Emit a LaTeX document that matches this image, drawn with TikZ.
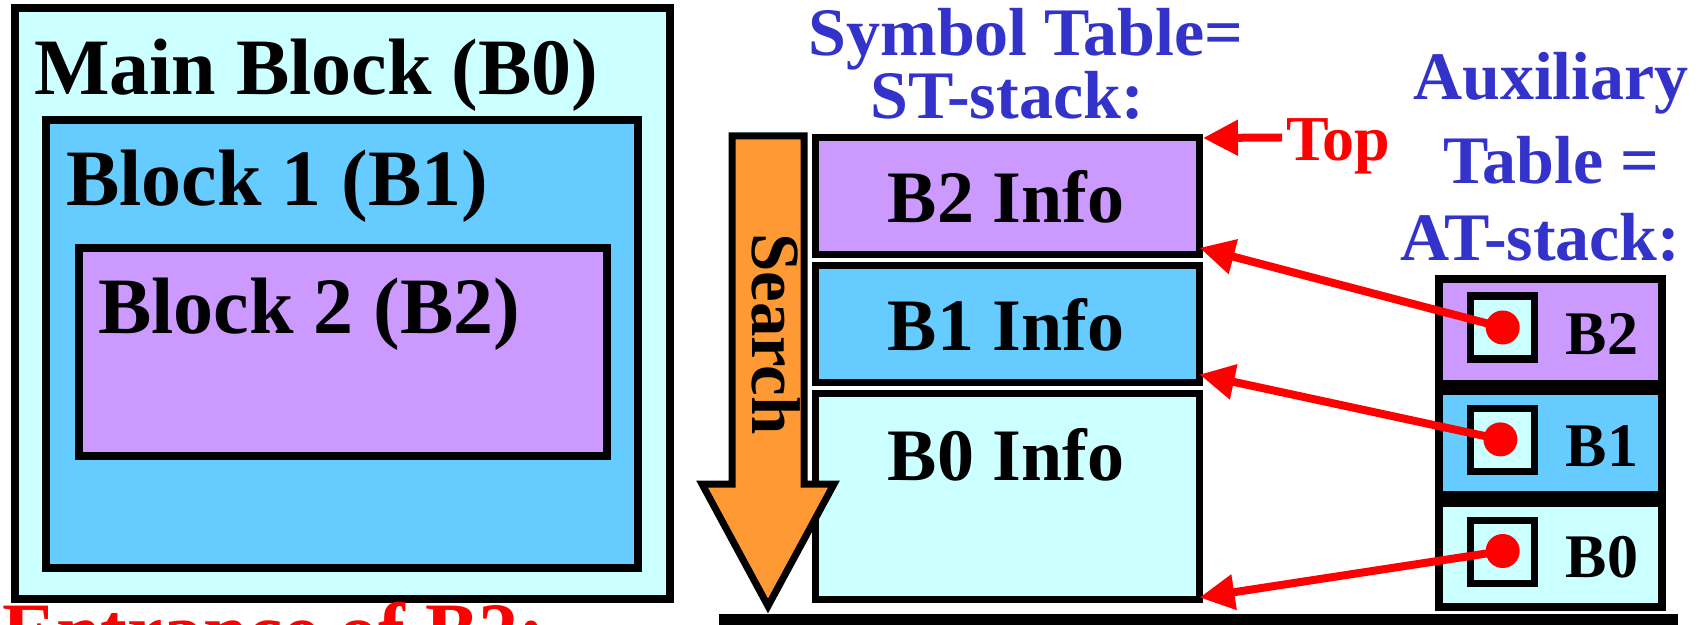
\documentclass[tikz,border=0pt]{standalone}
\usepackage{fontspec}
\setmainfont{Liberation Serif}
\usetikzlibrary{arrows.meta,calc}
\definecolor{paleCyan}{HTML}{CCFFFF}
\definecolor{skyBlue}{HTML}{66CCFF}
\definecolor{lilac}{HTML}{CC99FF}
\definecolor{searchOrange}{HTML}{FF9933}
\definecolor{titleBlue}{HTML}{3333CC}
\definecolor{pureRed}{HTML}{FF0000}

\tikzset{
  blockbox/.style={draw=black, line width=4pt, line join=miter},
  txt/.style={inner sep=0pt, outer sep=0pt, font=\bfseries\fontsize{#1}{#1}\selectfont},
  title/.style={txt=34, text=titleBlue, anchor=base},
  stbox/.style={draw=black, line width=3.5pt, inner sep=0pt, outer sep=0pt,
    minimum width=192pt},
  atcell/.style={draw=black, line width=4pt, inner sep=0pt, outer sep=0pt,
    minimum width=111.5pt, minimum height=52pt},
  slot/.style={draw=black, fill=paleCyan, line width=3.7pt, inner sep=0pt,
    outer sep=0pt, minimum width=32pt, minimum height=31.5pt},
  dot/.style={circle, fill=pureRed, inner sep=0pt, minimum size=17pt},
  ptr/.style={draw=pureRed, line width=4pt,
    -{Triangle[length=17.5pt,width=17pt]}},
}

\begin{document}
\begin{tikzpicture}[x=0.5pt,y=-0.5pt]
\useasboundingbox (0,0) rectangle (1706,625);

% nested program blocks
\draw[blockbox, fill=paleCyan] (14.7,8) rectangle (670,599);
\draw[blockbox, fill=skyBlue] (46.4,120) rectangle (638,567.5);
\draw[blockbox, fill=lilac] (78.5,248) rectangle (606.5,455.5);
\node[txt=40, anchor=base west] (mainlbl) at (34,95) {Main Block (B0)};
\node[txt=40, anchor=base west] (blk1lbl) at (66,206) {Block 1 (B1)};
\node[txt=40, anchor=base west] (blk2lbl) at (98,334) {Block 2 (B2)};
\node[txt=40, anchor=base west, text=pureRed] (entr) at (3,658) {Entrance of B2:};

% symbol table stack
\node[title] (sttitle1) at (1026,55.8) {Symbol Table=};
\node[title] (sttitle2) at (1007,118.7) {ST-stack:};

\node[stbox, fill=lilac, minimum height=58.25pt] (b2) at (1007,196.25) {};
\node[stbox, fill=skyBlue, minimum height=58pt] (b1) at (1007,324) {};
\node[stbox, fill=paleCyan, minimum height=103pt] (b0) at (1007,496.5) {};
\node[txt=37, anchor=base] (b2lbl) at (1006,223) {B2 Info};
\node[txt=37, anchor=base] (b1lbl) at (1006,350.6) {B1 Info};
\node[txt=37, anchor=base] (b0lbl) at (1006,480) {B0 Info};

% search direction arrow, lying over the stack's left edge
\draw[black, line width=3.5pt, fill=searchOrange, line join=miter]
  (732,136) -- (804,136) -- (804,484) -- (834,484) -- (768,606)
  -- (702,484) -- (732,484) -- cycle;
\node[txt=34.5, rotate=-90, anchor=base] (search) at (752,334) {Search};

% base line under the stacks
\fill[black] (718.6,613.5) rectangle (1678,640);

% top-of-stack marker
\node[txt=32, text=pureRed, anchor=base west] (toplbl) at (1286,161) {Top};
\coordinate (toptail) at (1282,137.5);
\draw[ptr] (toptail) -- ($(b2.north east)+(4,0)$);

% auxiliary table stack
\node[title] (attitle1) at (1551,99.6) {Auxiliary};
\node[title] (attitle2) at (1551.5,184) {Table =};
\node[title] (attitle3) at (1540.6,261) {AT-stack:};

\node[atcell, fill=lilac] (at2) at (1550.5,331.5) {};
\node[atcell, fill=skyBlue] (at1) at (1550.5,443.1) {};
\node[atcell, fill=paleCyan] (at0) at (1550.5,555.25) {};

\node[slot] (s2) at (1502.6,327.5) {};
\node[slot] (s1) at (1502.6,439.75) {};
\node[slot] (s0) at (1502.6,551.75) {};

\node[txt=31, anchor=base] (a2lbl) at (1602,354.6) {B2};
\node[txt=31, anchor=base] (a1lbl) at (1602,466) {B1};
\node[txt=31, anchor=base] (a0lbl) at (1602,577.7) {B0};

\node[dot] (d2) at (1502.7,327.5) {};
\node[dot] (d1) at (1500.4,439.4) {};
\node[dot] (d0) at (1502.7,551) {};

% pointers from the auxiliary entries into the symbol table
\draw[ptr] (d2.center) -- ($(b2.south east)+(0.5,-6.7)$);
\draw[ptr] (d1.center) -- ($(b1.south east)+(0.5,-7.5)$);
\draw[ptr] (d0.center) -- ($(b0.south east)+(0.5,-2)$);
\end{tikzpicture}
\end{document}
